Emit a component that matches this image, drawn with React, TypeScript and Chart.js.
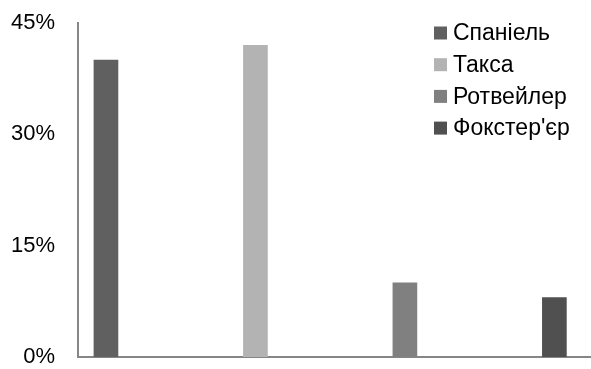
import React, { useEffect, useRef } from "react";
import { Chart, registerables } from "chart.js";

Chart.register(...registerables);

const breeds = ["Спаніель", "Такса", "Ротвейлер", "Фокстер'єр"];
const shares = [40, 42, 10, 8];
const colors = ["#606060", "#b3b3b3", "#808080", "#505050"];
const yTicks = [0, 15, 30, 45];

const FONT = "'Liberation Sans', Arial, sans-serif";

const overlayPlugin = {
  id: "overlay",
  beforeDatasetsDraw(chart: any) {
    const { ctx, chartArea } = chart;
    ctx.save();
    ctx.strokeStyle = "#868686";
    ctx.lineWidth = 2;
    ctx.beginPath();
    ctx.moveTo(chartArea.left, chartArea.top - 1);
    ctx.lineTo(chartArea.left, chartArea.bottom);
    ctx.lineTo(chartArea.right, chartArea.bottom);
    ctx.stroke();
    ctx.restore();
  },
  afterDraw(chart: any) {
    const ctx = chart.ctx;
    ctx.save();
    ctx.font = "23px " + FONT;
    ctx.textBaseline = "middle";
    ctx.textAlign = "left";
    chart.data.datasets.forEach((ds: any, i: number) => {
      const yc = 33 + i * 31.7;
      ctx.fillStyle = ds.backgroundColor;
      ctx.fillRect(434, yc - 6.5, 13, 13);
      ctx.fillStyle = "#000";
      ctx.fillText(ds.label, 453, yc + 1);
    });
    ctx.restore();
  },
};

export default function App() {
  const ref = useRef<HTMLCanvasElement>(null);
  useEffect(() => {
    if (!ref.current) return;
    const chart = new Chart(ref.current, {
      type: "bar",
      data: {
        datasets: breeds.map((b, i) => ({
          label: b,
          data: [{ x: i, y: shares[i] }],
          backgroundColor: colors[i],
          barThickness: 24,
          grouped: false,
        })) as any,
      },
      options: {
        animation: false,
        responsive: false,
        layout: { padding: { top: 23, bottom: 12, left: 0, right: 0 } },
        plugins: { legend: { display: false }, tooltip: { enabled: false } },
        scales: {
          x: {
            type: "linear",
            display: false,
            offset: false,
            min: -0.187,
            max: 3.245,
          },
          y: {
            min: 0,
            max: 45,
            afterBuildTicks: (s: any) => {
              s.ticks = yTicks.map((v) => ({ value: v }));
            },
            ticks: {
              color: "#000",
              padding: 15,
              font: { family: FONT, size: 22 },
              callback: (v: any) => v + "%",
            },
            grid: { display: false },
            border: { display: false },
            afterFit: (s: any) => {
              s.width = 78;
              s.paddingTop = 0;
              s.paddingBottom = 0;
            },
          },
        },
      },
      plugins: [overlayPlugin],
    });
    return () => chart.destroy();
  }, []);
  return (
    <div style={{ position: "absolute", left: 0, top: 0, width: 591, height: 369, background: "#fff" }}>
      <canvas ref={ref} width={591} height={369} />
    </div>
  );
}
